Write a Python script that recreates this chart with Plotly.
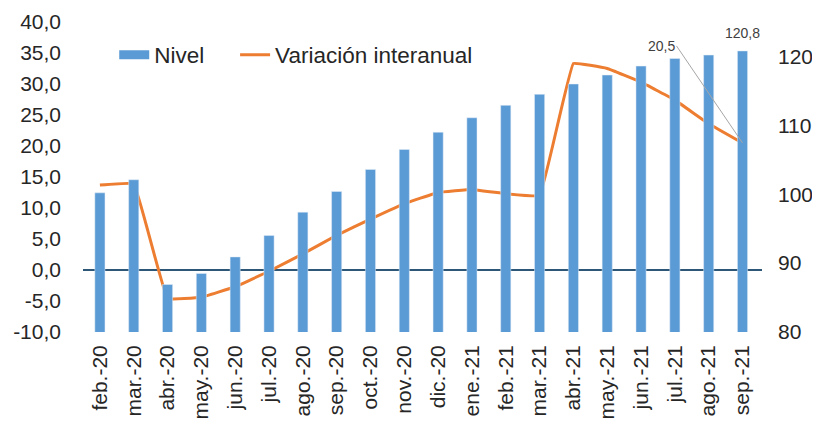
import plotly.graph_objects as go

categories = ["feb.-20", "mar.-20", "abr.-20", "may.-20", "jun.-20", "jul.-20", "ago.-20",
              "sep.-20", "oct.-20", "nov.-20", "dic.-20", "ene.-21", "feb.-21", "mar.-21",
              "abr.-21", "may.-21", "jun.-21", "jul.-21", "ago.-21", "sep.-21"]
nivel = [100.2, 102.1, 86.9, 88.5, 90.9, 94.0, 97.4, 100.4, 103.6, 106.5, 109.0, 111.1,
         112.9, 114.5, 116.0, 117.3, 118.6, 119.7, 120.2, 120.8]
variacion = [13.7, 13.9, -4.6, -4.4, -2.7, -0.2, 2.6, 5.6, 8.2, 10.7, 12.5, 13.0, 12.3,
             12.0, 33.3, 32.5, 30.3, 27.4, 23.6, 20.5]
left_ticks = [-10, -5, 0, 5, 10, 15, 20, 25, 30, 35, 40]
left_labels = ["-10,0", "-5,0", "0,0", "5,0", "10,0", "15,0", "20,0", "25,0", "30,0", "35,0", "40,0"]
right_ticks = [80, 90, 100, 110, 120]

FONT = "Liberation Sans, Arial, sans-serif"
BLUE = "#5b9bd5"
ORANGE = "#ed7d31"

fig = go.Figure()
fig.add_trace(go.Bar(x=categories, y=nivel, name="Nivel", marker_color=BLUE,
                     width=0.3, yaxis="y2", showlegend=False))
# legend entry drawn as a wide rectangle like the original
fig.add_trace(go.Scatter(x=[None], y=[None], mode="lines", name="Nivel",
                         line=dict(color=BLUE, width=9), yaxis="y2", legend="legend"))
fig.add_trace(go.Scatter(x=categories, y=variacion, name="Variación interanual", mode="lines",
                         line=dict(color=ORANGE, width=3, shape="spline", smoothing=0.2),
                         yaxis="y", legend="legend2"))

fig.add_annotation(x=categories[-1], y=nivel[-1], yref="y2", text="120,8", showarrow=False,
                   yshift=18, font=dict(family=FONT, size=14, color="#404040"))
fig.add_annotation(x=categories[-1], y=variacion[-1], yref="y", text="20,5", showarrow=True,
                   arrowhead=0, arrowwidth=1, arrowcolor="#a6a6a6", ax=-66, ay=-97,
                   xanchor="right", font=dict(family=FONT, size=14, color="#404040"))

legend_style = dict(orientation="h", y=0.8935, xanchor="left", yanchor="middle",
                    font=dict(family=FONT, size=22.5, color="#262626"),
                    bgcolor="rgba(0,0,0,0)", itemwidth=30)

fig.update_layout(
    width=812, height=416,
    margin=dict(l=75, r=58, t=14, b=92, autoexpand=False),
    paper_bgcolor="white", plot_bgcolor="white",
    font=dict(family=FONT, size=21, color="#262626"),
    showlegend=True,
    legend=dict(x=0.046, **legend_style),
    legend2=dict(x=0.224, **legend_style),
    bargap=0.7,
    xaxis=dict(type="category", tickangle=-90, showgrid=False, showline=False,
               ticks="", tickfont=dict(size=21), ticklabelstandoff=8, automargin=False),
    yaxis=dict(range=[-10, 40], tickvals=left_ticks, ticktext=left_labels, showgrid=False,
               showline=False, zeroline=True, zerolinecolor="#2e5677", zerolinewidth=1.5,
               ticks="", tickfont=dict(size=21), ticklabelstandoff=21, automargin=False),
    yaxis2=dict(range=[80, 125], tickvals=right_ticks, overlaying="y", side="right",
                showgrid=False, showline=False, zeroline=False, ticks="",
                tickfont=dict(size=21), ticklabelstandoff=15, automargin=False),
)

fig.write_html("out.html")
